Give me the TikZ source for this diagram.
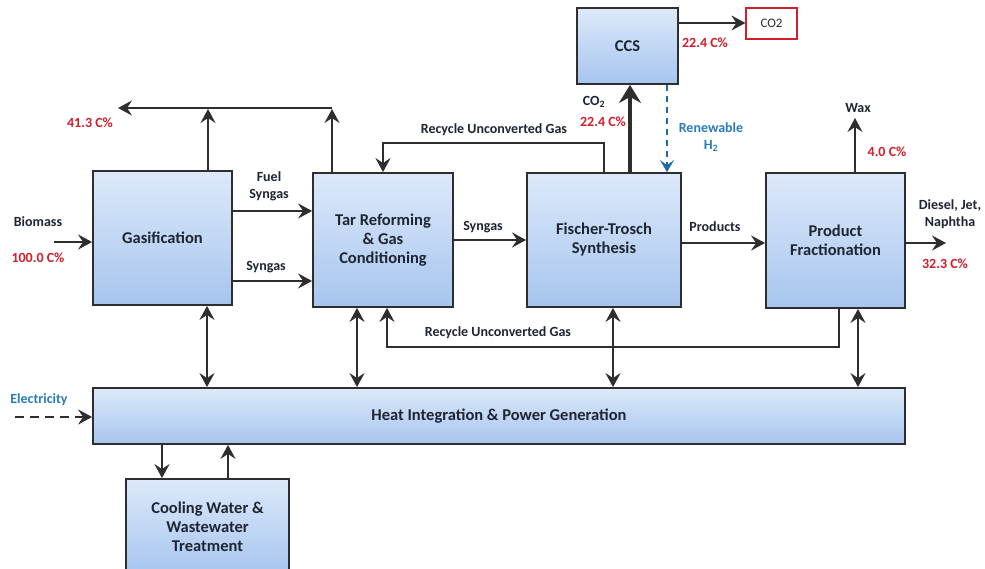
\documentclass[tikz,border=0pt]{standalone}
\usepackage{fontspec}
\setmainfont{Carlito}
\usetikzlibrary{arrows.meta}
\definecolor{boxtop}{HTML}{DDE9FA}
\definecolor{boxbot}{HTML}{A6C5EE}
\definecolor{edge}{HTML}{2E2E2E}
\definecolor{txt}{HTML}{1E2533}
\definecolor{redtxt}{HTML}{D11F2B}
\definecolor{bluetxt}{HTML}{2A7BBE}
\definecolor{bluedash}{HTML}{1F6AA5}
\tikzset{
  blk/.style={draw=edge, line width=1.8pt, top color=boxtop, bottom color=boxbot,
    font=\fontsize{16.5}{19}\selectfont\bfseries, text=txt, align=center, inner sep=0pt},
  lbl/.style={font=\fontsize{14}{17}\selectfont\bfseries, text=txt, align=center, inner sep=0pt},
  pct/.style={font=\fontsize{14}{17}\selectfont\bfseries, text=redtxt, inner sep=0pt},
  blbl/.style={font=\fontsize{14}{17}\selectfont\bfseries, text=bluetxt, align=center, inner sep=0pt},
  arr/.style={draw=edge, line width=1.8pt, -{Stealth[length=14pt,width=15pt,inset=5pt]}},
  darr/.style={draw=edge, line width=1.8pt, {Stealth[length=14pt,width=15pt,inset=5pt]}-{Stealth[length=14pt,width=15pt,inset=5pt]}},
  thickarr/.style={draw=edge, line width=4.5pt, -{Stealth[length=18pt,width=22pt,inset=6pt]}},
  bdash/.style={draw=bluedash, line width=1.8pt, dash pattern=on 6pt off 5pt, -{Stealth[length=12pt,width=14pt,inset=5pt]}},
  gdash/.style={draw=edge, line width=1.8pt, dash pattern=on 9pt off 6pt, -{Stealth[length=14pt,width=15pt,inset=5pt]}},
}
\begin{document}
\begin{tikzpicture}[x=1pt,y=-1pt]
\path[use as bounding box, fill=white] (0,0) rectangle (985,569);

% blocks
\node[blk, minimum width=139pt, minimum height=134pt] (gas) at (162.5,238) {Gasification};
\node[blk, minimum width=140pt, minimum height=134pt] (tar) at (383,240) {Tar Reforming\\\& Gas\\Conditioning};
\node[blk, minimum width=154pt, minimum height=134pt] (ft) at (604,240) {Fischer-Trosch\\Synthesis};
\node[blk, minimum width=139pt, minimum height=135pt] (pf) at (835.5,240.5) {Product\\Fractionation};
\node[blk, minimum width=101pt, minimum height=76pt] (ccs) at (627.5,46) {CCS};
\node[draw=redtxt, line width=1.2pt, fill=white, minimum width=51pt, minimum height=31pt,
  font=\fontsize{13}{15}\selectfont, text=edge, inner sep=0pt] (co2) at (771.5,23.5) {CO2};
\node[blk, minimum width=812pt, minimum height=56pt] (heat) at (499,416) {Heat Integration \& Power Generation};
\node[blk, minimum width=163pt, minimum height=95pt] (cool) at (207.5,526.5) {Cooling Water \&\\Wastewater\\Treatment};

% biomass in
\coordinate (bioin) at (54,242);
\draw[arr] (bioin) -- (bioin -| gas.west);
\node[lbl] (biomass) at (38,222) {Biomass};
\node[pct] (p100) at (38,258) {100.0 C\%};

% off gas header
\coordinate (offgas) at (118,108);
\coordinate (g1) at (208,108);
\coordinate (t1) at (332,108);
\draw[arr] (g1 |- gas.north) -- ([yshift=-1pt]g1);
\draw[arr] (t1 |- tar.north) -- ([yshift=-1pt]t1);
\draw[arr] (t1) -- (offgas);
\node[pct] (p413) at (90,123) {41.3 C\%};

% gas -> tar
\coordinate (fs) at (232,211);
\draw[arr] (fs -| gas.east) -- (fs -| tar.west);
\node[lbl] (fuelsyn) at (269,186) {Fuel\\Syngas};
\coordinate (sy) at (232,281);
\draw[arr] (sy -| gas.east) -- (sy -| tar.west);
\node[lbl] (syn1) at (266,267) {Syngas};

% tar -> ft
\coordinate (sy2) at (453,240);
\draw[arr] (sy2 -| tar.east) -- (sy2 -| ft.west);
\node[lbl] (syn2) at (483,227) {Syngas};

% ft -> pf
\coordinate (pr) at (681,243);
\draw[arr] (pr -| ft.east) -- (pr -| pf.west);
\node[lbl] (prod) at (715,227) {Products};

% pf -> out
\coordinate (fuelout) at (946,243);
\draw[arr] (fuelout -| pf.east) -- (fuelout);
\node[lbl] (diesel) at (950,214) {Diesel, Jet,\\Naphtha};
\node[pct] (p323) at (945,264) {32.3 C\%};

% wax
\coordinate (waxout) at (855,118);
\draw[arr] (waxout |- pf.north) -- (waxout);
\node[lbl] (wax) at (858,108) {Wax};
\node[pct] (p40) at (887,152) {4.0 C\%};

% CO2 to CCS
\coordinate (cc) at (630,100);
\draw[thickarr] (cc |- ft.north) -- (cc |- ccs.south);
\node[lbl] (co2lbl) at (594,102) {CO\textsubscript{2}};
\node[pct] (p224a) at (603,122) {22.4 C\%};

% renewable H2
\coordinate (h2) at (667,100);
\draw[bdash] (h2 |- ccs.south) -- (h2 |- ft.north);
\node[blbl] (renew) at (711,137) {Renewable\\H\textsubscript{2}};

% CCS -> CO2
\coordinate (cs) at (700,23);
\draw[arr] (cs -| ccs.east) -- (cs -| co2.west);
\node[pct] (p224b) at (705,43) {22.4 C\%};

% recycle upper
\coordinate (rc1) at (383,143);
\draw[arr] (ft.north) |- (rc1) -- (rc1 |- tar.north);
\node[lbl] (rec1) at (494,130) {Recycle Unconverted Gas};

% recycle lower
\coordinate (rc2) at (387,347);
\coordinate (pfb) at (839,347);
\draw[arr] (pfb |- pf.south) -- (pfb) -- (rc2) -- (rc2 |- tar.south);
\node[lbl] (rec2) at (498,333) {Recycle Unconverted Gas};

% heat exchanges
\coordinate (hx1) at (207,350);
\coordinate (hx2) at (357,350);
\coordinate (hx3) at (613,350);
\coordinate (hx4) at (858,350);
\draw[darr] (hx1 |- gas.south) -- (hx1 |- heat.north);
\draw[darr] (hx2 |- tar.south) -- (hx2 |- heat.north);
\draw[darr] (hx3 |- ft.south) -- (hx3 |- heat.north);
\draw[darr] (hx4 |- pf.south) -- (hx4 |- heat.north);

% electricity
\coordinate (elin) at (15,417);
\draw[gdash] (elin) -- (elin -| heat.west);
\node[blbl] (elec) at (39,400) {Electricity};

% cooling
\coordinate (cw1) at (162,460);
\coordinate (cw2) at (228,460);
\draw[arr] (cw1 |- heat.south) -- (cw1 |- cool.north);
\draw[arr] (cw2 |- cool.north) -- (cw2 |- heat.south);
\end{tikzpicture}
\end{document}
